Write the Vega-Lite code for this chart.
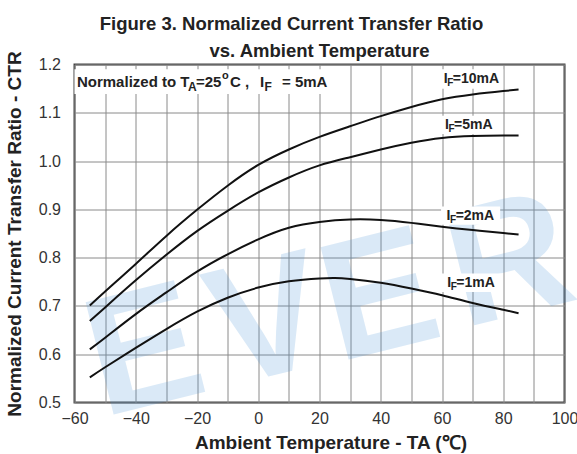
{
  "$schema": "https://vega.github.io/schema/vega-lite/v6.json",
  "width": 490,
  "height": 338,
  "autosize": {"type": "none"},
  "padding": {"left": 74.5, "top": 64.5, "right": 12.5, "bottom": 51.5},
  "background": "white",
  "config": {
    "font": "Liberation Sans",
    "view": {"stroke": "#444", "strokeWidth": 2}
  },
  "title": {
    "text": ["Figure 3. Normalized Current Transfer Ratio\u2800\u2800\u2800\u2800", "vs. Ambient Temperature"],
    "fontSize": 18.5,
    "fontWeight": "bold",
    "lineHeight": 27,
    "offset": -10,
    "anchor": "middle",
    "color": "#222"
  },
  "datasets": {
    "curves": [
      {"x": -55, "y": 0.701, "s": "10mA"}, {"x": -50, "y": 0.730, "s": "10mA"}, {"x": -40, "y": 0.787, "s": "10mA"}, {"x": -30, "y": 0.845, "s": "10mA"}, {"x": -20, "y": 0.899, "s": "10mA"}, {"x": -10, "y": 0.949, "s": "10mA"}, {"x": 0, "y": 0.992, "s": "10mA"}, {"x": 10, "y": 1.024, "s": "10mA"}, {"x": 20, "y": 1.050, "s": "10mA"}, {"x": 30, "y": 1.072, "s": "10mA"}, {"x": 40, "y": 1.093, "s": "10mA"}, {"x": 50, "y": 1.112, "s": "10mA"}, {"x": 60, "y": 1.128, "s": "10mA"}, {"x": 70, "y": 1.138, "s": "10mA"}, {"x": 80, "y": 1.145, "s": "10mA"}, {"x": 85, "y": 1.148, "s": "10mA"},
      {"x": -55, "y": 0.669, "s": "5mA"}, {"x": -50, "y": 0.697, "s": "5mA"}, {"x": -40, "y": 0.753, "s": "5mA"}, {"x": -30, "y": 0.806, "s": "5mA"}, {"x": -20, "y": 0.855, "s": "5mA"}, {"x": -10, "y": 0.897, "s": "5mA"}, {"x": 0, "y": 0.935, "s": "5mA"}, {"x": 10, "y": 0.966, "s": "5mA"}, {"x": 20, "y": 0.991, "s": "5mA"}, {"x": 30, "y": 1.008, "s": "5mA"}, {"x": 40, "y": 1.024, "s": "5mA"}, {"x": 50, "y": 1.038, "s": "5mA"}, {"x": 60, "y": 1.048, "s": "5mA"}, {"x": 70, "y": 1.052, "s": "5mA"}, {"x": 80, "y": 1.053, "s": "5mA"}, {"x": 85, "y": 1.053, "s": "5mA"},
      {"x": -55, "y": 0.610, "s": "2mA"}, {"x": -50, "y": 0.634, "s": "2mA"}, {"x": -40, "y": 0.683, "s": "2mA"}, {"x": -30, "y": 0.728, "s": "2mA"}, {"x": -20, "y": 0.771, "s": "2mA"}, {"x": -10, "y": 0.807, "s": "2mA"}, {"x": 0, "y": 0.838, "s": "2mA"}, {"x": 10, "y": 0.862, "s": "2mA"}, {"x": 20, "y": 0.874, "s": "2mA"}, {"x": 30, "y": 0.879, "s": "2mA"}, {"x": 40, "y": 0.878, "s": "2mA"}, {"x": 50, "y": 0.872, "s": "2mA"}, {"x": 60, "y": 0.864, "s": "2mA"}, {"x": 70, "y": 0.857, "s": "2mA"}, {"x": 80, "y": 0.851, "s": "2mA"}, {"x": 85, "y": 0.848, "s": "2mA"},
      {"x": -55, "y": 0.552, "s": "1mA"}, {"x": -50, "y": 0.573, "s": "1mA"}, {"x": -40, "y": 0.613, "s": "1mA"}, {"x": -30, "y": 0.652, "s": "1mA"}, {"x": -20, "y": 0.688, "s": "1mA"}, {"x": -10, "y": 0.717, "s": "1mA"}, {"x": 0, "y": 0.738, "s": "1mA"}, {"x": 10, "y": 0.751, "s": "1mA"}, {"x": 20, "y": 0.757, "s": "1mA"}, {"x": 25, "y": 0.758, "s": "1mA"}, {"x": 30, "y": 0.756, "s": "1mA"}, {"x": 40, "y": 0.748, "s": "1mA"}, {"x": 50, "y": 0.736, "s": "1mA"}, {"x": 60, "y": 0.722, "s": "1mA"}, {"x": 70, "y": 0.706, "s": "1mA"}, {"x": 80, "y": 0.692, "s": "1mA"}, {"x": 85, "y": 0.685, "s": "1mA"}
    ],
    "pieces": [
      {"x": -59.2, "y": 1.164, "t": "Normalized to T", "role": "amain"},
      {"x": -22.94, "y": 1.164, "t": "A", "role": "asub"},
      {"x": -20.33, "y": 1.164, "t": "=25", "role": "amain"},
      {"x": -11.84, "y": 1.164, "t": "o", "role": "asup"},
      {"x": -9.22, "y": 1.164, "t": "C ,", "role": "amain"},
      {"x": 0.57, "y": 1.164, "t": "I", "role": "amain"},
      {"x": 2.04, "y": 1.164, "t": "F", "role": "asub"},
      {"x": 7.76, "y": 1.164, "t": "= 5mA", "role": "amain"},
      {"x": 60.6, "y": 1.169, "t": "I", "role": "lmain"},
      {"x": 61.75, "y": 1.169, "t": "F", "role": "lsub"},
      {"x": 63.55, "y": 1.169, "t": "=10mA", "role": "lmain"},
      {"x": 61.0, "y": 1.075, "t": "I", "role": "lmain"},
      {"x": 62.15, "y": 1.075, "t": "F", "role": "lsub"},
      {"x": 63.95, "y": 1.075, "t": "=5mA", "role": "lmain"},
      {"x": 61.5, "y": 0.887, "t": "I", "role": "lmain"},
      {"x": 62.65, "y": 0.887, "t": "F", "role": "lsub"},
      {"x": 64.45, "y": 0.887, "t": "=2mA", "role": "lmain"},
      {"x": 61.7, "y": 0.748, "t": "I", "role": "lmain"},
      {"x": 62.85, "y": 0.748, "t": "F", "role": "lsub"},
      {"x": 64.65, "y": 0.748, "t": "=1mA", "role": "lmain"}
    ],
    "boxes": [
      {"x": -60, "x2": 27.5, "y": 1.139, "y2": 1.19},
      {"x": 59.5, "x2": 80, "y": 1.150, "y2": 1.19},
      {"x": 59.7, "x2": 79, "y": 1.056, "y2": 1.094},
      {"x": 59.7, "x2": 79, "y": 0.868, "y2": 0.906},
      {"x": 59.7, "x2": 79.5, "y": 0.729, "y2": 0.767}
    ],
    "wm": [
      {"x": -37.0, "y": 0.598, "t": "E"},
      {"x": 3.2, "y": 0.660, "t": "V"},
      {"x": 39.8, "y": 0.712, "t": "E"},
      {"x": 82.2, "y": 0.785, "t": "R"}
    ]
  },
  "encoding": {
    "x": {
      "field": "x",
      "type": "quantitative",
      "scale": {"domain": [-60, 100], "nice": false, "zero": false},
      "axis": {
        "values": [-60, -50, -40, -30, -20, -10, 0, 10, 20, 30, 40, 50, 60, 70, 80, 90, 100],
        "labelExpr": "datum.value % 20 == 0 ? datum.label : ''",
        "title": "Ambient Temperature - TA (\u2103)",
        "grid": true,
        "gridColor": "#8a8a8a",
        "gridWidth": 1,
        "gridOpacity": 1,
        "domain": false,
        "ticks": false,
        "labelFontSize": 16,
        "labelColor": "#333",
        "labelPadding": 8,
        "labelFlush": false,
        "labelOverlap": false,
        "titleFontSize": 19,
        "titleFontWeight": "bold",
        "titleColor": "#222",
        "titlePadding": 7,
        "titleX": 256,
        "titleAlign": "center"
      }
    },
    "y": {
      "field": "y",
      "type": "quantitative",
      "scale": {"domain": [0.5, 1.2], "nice": false, "zero": false},
      "axis": {
        "values": [0.5, 0.6, 0.7, 0.8, 0.9, 1.0, 1.1, 1.2],
        "format": ".1f",
        "title": "Normalized Current Transfer Ratio - CTR",
        "grid": true,
        "gridColor": "#8a8a8a",
        "gridWidth": 1,
        "gridOpacity": 1,
        "domain": false,
        "ticks": false,
        "labelFontSize": 16,
        "labelColor": "#333",
        "labelPadding": 14,
        "labelFlush": false,
        "labelOverlap": false,
        "titleFontSize": 19,
        "titleFontWeight": "bold",
        "titleColor": "#222",
        "titlePadding": 14
      }
    }
  },
  "layer": [
    {
      "data": {"name": "wm"},
      "mark": {"type": "text", "fontSize": 168, "fontWeight": "bold", "angle": -14, "align": "center", "baseline": "middle", "color": "#3f8fd6", "opacity": 0.19},
      "encoding": {"text": {"field": "t"}}
    },
    {
      "data": {"name": "boxes"},
      "mark": {"type": "rect", "color": "white"},
      "encoding": {"x2": {"field": "x2"}, "y2": {"field": "y2"}}
    },
    {
      "data": {"name": "curves"},
      "mark": {"type": "line", "color": "#111", "strokeWidth": 2, "interpolate": "natural"},
      "encoding": {"detail": {"field": "s"}}
    },
    {
      "data": {"name": "pieces"},
      "transform": [{"filter": "datum.role == 'amain'"}],
      "mark": {"type": "text", "fontSize": 15, "fontWeight": "bold", "align": "left", "baseline": "middle", "color": "#222"},
      "encoding": {"text": {"field": "t"}}
    },
    {
      "data": {"name": "pieces"},
      "transform": [{"filter": "datum.role == 'asub'"}],
      "mark": {"type": "text", "fontSize": 12, "fontWeight": "bold", "align": "left", "baseline": "middle", "dy": 5, "color": "#222"},
      "encoding": {"text": {"field": "t"}}
    },
    {
      "data": {"name": "pieces"},
      "transform": [{"filter": "datum.role == 'asup'"}],
      "mark": {"type": "text", "fontSize": 11, "fontWeight": "bold", "align": "left", "baseline": "middle", "dy": -6, "color": "#222"},
      "encoding": {"text": {"field": "t"}}
    },
    {
      "data": {"name": "pieces"},
      "transform": [{"filter": "datum.role == 'lmain'"}],
      "mark": {"type": "text", "fontSize": 14, "fontWeight": "bold", "align": "left", "baseline": "middle", "color": "#222"},
      "encoding": {"text": {"field": "t"}}
    },
    {
      "data": {"name": "pieces"},
      "transform": [{"filter": "datum.role == 'lsub'"}],
      "mark": {"type": "text", "fontSize": 10, "fontWeight": "bold", "align": "left", "baseline": "middle", "dy": 4, "color": "#222"},
      "encoding": {"text": {"field": "t"}}
    }
  ]
}
